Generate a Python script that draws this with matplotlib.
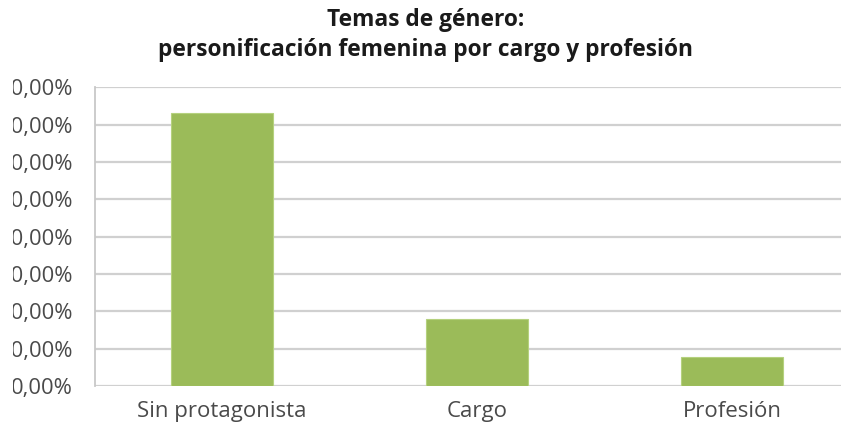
import matplotlib
matplotlib.use("Agg")
import matplotlib.pyplot as plt
from matplotlib.ticker import FixedLocator, FuncFormatter
from matplotlib.transforms import Bbox, TransformedBbox

categories = ["Sin protagonista", "Cargo", "Profesión"]
values = [0.731, 0.179, 0.078]
yticks = [0.0, 0.1, 0.2, 0.3, 0.4, 0.5, 0.6, 0.7, 0.8]
title = "Temas de género:\npersonificación femenina por cargo y profesión"

plt.rcParams['font.family'] = ['Open Sans', 'DejaVu Sans']

W, H = 841, 429
fig = plt.figure(figsize=(W / 100, H / 100), dpi=100)
ax = fig.add_axes([94.5 / W, (H - 386) / H, 765 / W, (386 - 87.3) / H])

x = list(range(len(categories)))
ax.bar(x, values, width=0.4, color="#9BBB59", edgecolor="#B5D17E", linewidth=0.8, zorder=3)
ax.set_xlim(-0.5, 2.5)
ax.set_ylim(0, 0.8)
ax.yaxis.set_major_locator(FixedLocator(yticks))
ax.yaxis.set_major_formatter(FuncFormatter(lambda v, p: f"{v*100:.2f}%".replace(".", ",")))
ax.set_xticks(x)
ax.set_xticklabels(categories)
ax.grid(axis="y", color="#D0D0D0", linewidth=1.6, zorder=0)
for s in ["top", "right", "bottom"]:
    ax.spines[s].set_visible(False)
ax.spines["left"].set_color("#C8C8C8")
ax.spines["left"].set_linewidth(1.3)
ax.tick_params(axis="y", length=0, pad=15.5, labelsize=15.8, labelcolor="#4a4a4a")
ax.tick_params(axis="x", length=0, pad=11, labelsize=16, labelcolor="#4a4a4a")

clip = TransformedBbox(Bbox([[13 / W, 0], [1, 1]]), fig.transFigure)
for lab in ax.get_yticklabels():
    lab.set_clip_on(True)
    lab.set_clip_box(clip)

fig.text(426 / W, (H - 35) / H, title, ha="center", va="center", fontsize=16.4,
         fontweight="bold", color="#1a1a1a", linespacing=1.3)

fig.savefig("out.png", dpi=100)
